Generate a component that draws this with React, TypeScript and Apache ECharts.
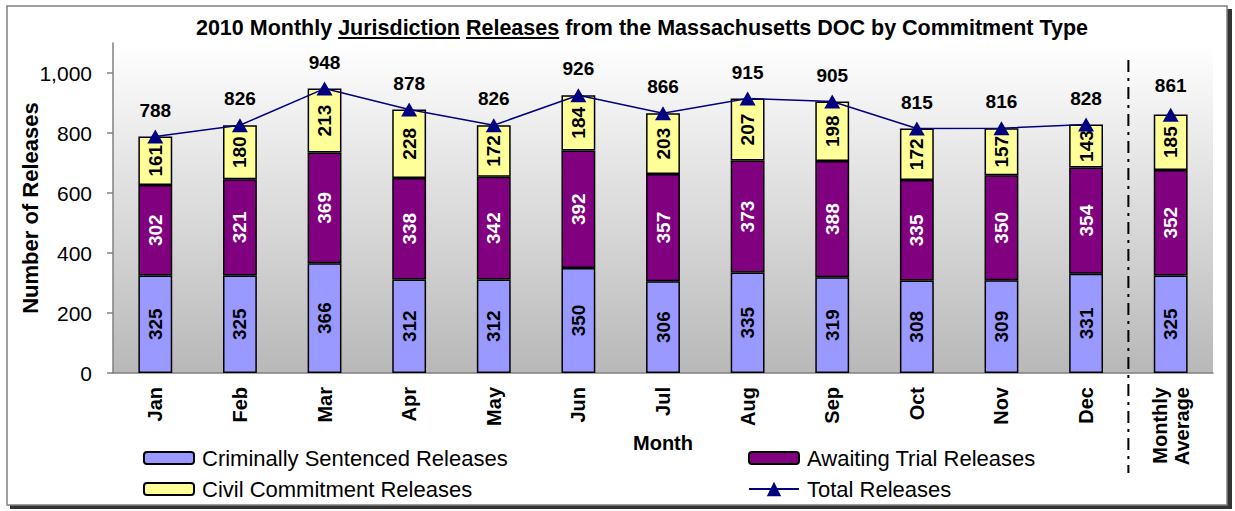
import React, { useEffect, useRef } from 'react';
import * as echarts from 'echarts';

const categories = ['Jan', 'Feb', 'Mar', 'Apr', 'May', 'Jun', 'Jul', 'Aug', 'Sep', 'Oct', 'Nov', 'Dec', 'Monthly\nAverage'];
const criminal = [325, 325, 366, 312, 312, 350, 306, 335, 319, 308, 309, 331, 325];
const awaiting = [302, 321, 369, 338, 342, 392, 357, 373, 388, 335, 350, 354, 352];
const civil = [161, 180, 213, 228, 172, 184, 203, 207, 198, 172, 157, 143, 185];
const totalMonthly = [788, 826, 948, 878, 826, 926, 866, 915, 905, 815, 816, 828];
const totalAverage = 861;
const yTicks = [0, 200, 400, 600, 800, 1000];

const TITLE_PRE1 = '2010 Monthly ';
const TITLE_U1 = 'Jurisdiction';
const TITLE_MID = ' ';
const TITLE_U2 = 'Releases';
const TITLE_POST = ' from the Massachusetts DOC by Commitment Type';
const TITLE = TITLE_PRE1 + TITLE_U1 + TITLE_MID + TITLE_U2 + TITLE_POST;

const FONT = '"Liberation Sans", Arial, Helvetica, sans-serif';
const TITLE_SIZE = 21.5;
const TITLE_CX = 642;

export default function App() {
  const ref = useRef<HTMLDivElement>(null);
  useEffect(() => {
    if (!ref.current) return;
    const chart = echarts.init(ref.current, undefined, { renderer: 'svg' });
    const barLabel = (color: string) => ({
      show: true,
      position: 'inside',
      rotate: 90,
      fontSize: 19,
      fontWeight: 'bold',
      color,
      fontFamily: FONT,
    });
    const lineLabel = (distance: number) => ({
      show: true,
      position: 'top',
      distance,
      fontSize: 19,
      fontWeight: 'bold',
      color: '#000',
      fontFamily: FONT,
    });
    const legendCommon = {
      orient: 'vertical',
      itemWidth: 50,
      itemHeight: 12,
      selectedMode: false,
      textStyle: { fontSize: 22, color: '#000', fontFamily: FONT, padding: [0, 0, 0, 3] },
    };
    chart.setOption({
      animation: false,
      textStyle: { fontFamily: FONT },
      title: {
        text: TITLE,
        left: TITLE_CX - 5,
        top: 12,
        textAlign: 'center',
        textStyle: { fontSize: TITLE_SIZE, fontWeight: 'bold', color: '#000', fontFamily: FONT },
      },
      grid: {
        left: 113,
        right: 22,
        top: 43,
        bottom: 138,
        show: true,
        borderWidth: 0,
        outerBoundsMode: 'none',
        backgroundColor: new echarts.graphic.LinearGradient(0, 0, 0, 1, [
          { offset: 0, color: '#FFFFFF' },
          { offset: 1, color: '#B8B8B8' },
        ]),
      },
      legend: [
        { ...legendCommon, left: 138, top: 442, data: ['Criminally Sentenced Releases'] },
        { ...legendCommon, left: 138, top: 473, data: ['Civil Commitment Releases'] },
        { ...legendCommon, left: 743, top: 442, data: ['Awaiting Trial Releases'] },
        { ...legendCommon, left: 743, top: 473, itemHeight: 18, data: ['Total Releases'] },
      ],
      xAxis: {
        type: 'category',
        data: categories,
        name: 'Month',
        nameLocation: 'middle',
        nameGap: 60,
        nameMoveOverlap: false,
        nameTextStyle: { fontSize: 20, fontWeight: 'bold', color: '#000', fontFamily: FONT },
        axisLine: { lineStyle: { color: '#808080', width: 1.5 } },
        axisTick: { length: 7, lineStyle: { color: '#808080', width: 1.5 } },
        axisLabel: {
          interval: 0,
          rotate: 90,
          margin: 14,
          fontSize: 20,
          lineHeight: 22,
          fontWeight: 'bold',
          color: '#000',
          fontFamily: FONT,
        },
      },
      yAxis: {
        type: 'value',
        min: 0,
        max: 1100,
        interval: 200,
        name: 'Number of Releases',
        nameLocation: 'middle',
        nameGap: 72,
        nameMoveOverlap: false,
        nameTextStyle: { fontSize: 22, fontWeight: 'bold', color: '#000', fontFamily: FONT },
        splitLine: { show: false },
        axisLine: { show: true, lineStyle: { color: '#808080', width: 1.5 } },
        axisTick: { show: true, length: 6, customValues: yTicks, lineStyle: { color: '#808080', width: 1.5 } },
        axisLabel: {
          customValues: yTicks,
          margin: 21,
          fontSize: 21,
          color: '#000',
          fontFamily: FONT,
          formatter: (v: number) => (v > 1000 ? '' : v.toLocaleString('en-US')),
        },
      },
      series: [
        {
          name: 'Criminally Sentenced Releases',
          type: 'bar',
          stack: 'total',
          barWidth: '40%',
          data: criminal,
          itemStyle: { color: '#9999FF', borderColor: '#000', borderWidth: 1.5 },
          label: barLabel('#000'),
        },
        {
          name: 'Awaiting Trial Releases',
          type: 'bar',
          stack: 'total',
          barWidth: '40%',
          data: awaiting,
          itemStyle: { color: '#800080', borderColor: '#000', borderWidth: 1.5 },
          label: barLabel('#FFFFFF'),
        },
        {
          name: 'Civil Commitment Releases',
          type: 'bar',
          stack: 'total',
          barWidth: '40%',
          data: civil,
          itemStyle: { color: '#FFFF99', borderColor: '#000', borderWidth: 1.5 },
          label: barLabel('#000'),
        },
        {
          name: 'Total Releases',
          type: 'line',
          data: [...totalMonthly, '-'],
          symbol: 'triangle',
          symbolSize: [16, 14],
          z: 5,
          lineStyle: { color: '#000080', width: 1.5 },
          itemStyle: { color: '#000080' },
          label: lineLabel(10),
        },
        {
          name: 'Total Average',
          type: 'line',
          data: [...categories.slice(0, 12).map(() => '-'), totalAverage],
          symbol: 'triangle',
          symbolSize: [16, 14],
          z: 5,
          lineStyle: { color: '#000080', width: 1.5 },
          itemStyle: { color: '#000080' },
          label: lineLabel(13),
        },
      ],
    });

    // separator between months and the monthly average, from the axis scale
    const xDec = chart.convertToPixel({ xAxisIndex: 0 }, categories[11]) as number;
    const xAvg = chart.convertToPixel({ xAxisIndex: 0 }, categories[12]) as number;
    const xSep = (xDec + xAvg) / 2;

    // underline positions for the title words
    const cv = document.createElement('canvas');
    const ctx = cv.getContext('2d')!;
    ctx.font = `bold ${TITLE_SIZE}px ${FONT}`;
    const w = (s: string) => ctx.measureText(s).width;
    const full = w(TITLE);
    const x0 = TITLE_CX - full / 2;
    const u1s = x0 + w(TITLE_PRE1);
    const u1e = u1s + w(TITLE_U1);
    const u2s = x0 + w(TITLE_PRE1 + TITLE_U1 + TITLE_MID);
    const u2e = u2s + w(TITLE_U2);
    const uy = 38;

    chart.setOption({
      graphic: {
        elements: [
          { type: 'rect', id: 'shadow', z: -10, shape: { x: 10, y: 9, width: 1222, height: 500 }, style: { fill: '#333333' }, silent: true },
          { type: 'rect', id: 'frame', z: -9, shape: { x: 7, y: 6, width: 1220, height: 499 }, style: { fill: '#FFFFFF', stroke: '#808080', lineWidth: 1.5 }, silent: true },
          { type: 'line', id: 'u1', z: 10, shape: { x1: u1s, y1: uy, x2: u1e, y2: uy }, style: { stroke: '#000', lineWidth: 2 } },
          { type: 'line', id: 'u2', z: 10, shape: { x1: u2s, y1: uy, x2: u2e, y2: uy }, style: { stroke: '#000', lineWidth: 2 } },
          { type: 'line', id: 'sep', z: 10, shape: { x1: xSep, y1: 60, x2: xSep, y2: 473 }, style: { stroke: '#000', lineWidth: 2, lineDash: [12, 6, 3, 6] } },
        ],
      },
    });

    return () => chart.dispose();
  }, []);
  return (
    <div style={{ position: 'fixed', left: 0, top: 0, width: 1235, height: 511, background: '#fff' }}>
      <div ref={ref} style={{ width: 1235, height: 511 }} />
    </div>
  );
}
